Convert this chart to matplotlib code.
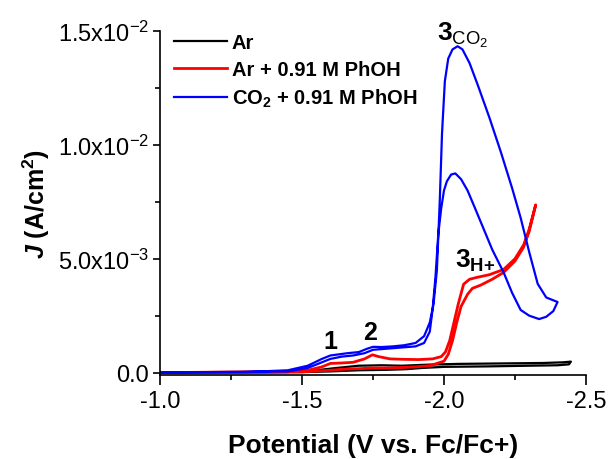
import matplotlib
matplotlib.use('Agg')
import matplotlib.pyplot as plt
from matplotlib.ticker import MultipleLocator, FixedLocator

plt.rcParams['font.family'] = ['Liberation Sans', 'DejaVu Sans']
plt.rcParams['mathtext.fontset'] = 'custom'
plt.rcParams['mathtext.rm'] = 'Liberation Sans'
plt.rcParams['mathtext.bf'] = 'Liberation Sans:bold'
plt.rcParams['mathtext.it'] = 'Liberation Sans:bold:italic'
plt.rcParams['mathtext.default'] = 'regular'

# Ar (forward + return sweep)
ar_v = [-1.00, -1.45, -1.55, -1.62, -1.70, -1.78, -1.85, -1.95, -2.05, -2.20, -2.35, -2.42, -2.447,
        -2.44, -2.40, -2.30, -2.15, -2.00, -1.92, -1.87, -1.80, -1.70, -1.60, -1.50, -1.00]
ar_j = [0.0, 0.00003, 0.0001, 0.0002, 0.0003, 0.00032, 0.0003, 0.00035, 0.00038, 0.0004, 0.00042, 0.00045, 0.00048,
        0.00036, 0.00032, 0.0003, 0.00027, 0.00025, 0.0002, 0.00015, 0.00012, 0.0001, 0.00005, 0.00002, 0.0]

# Ar + 0.91 M PhOH
ph_v = [-1.00, -1.45, -1.52, -1.57, -1.60, -1.64, -1.68, -1.72, -1.748, -1.77, -1.81, -1.86, -1.91, -1.96,
        -1.99, -2.005, -2.02, -2.035, -2.05, -2.069, -2.09, -2.119, -2.16, -2.21, -2.25, -2.281, -2.30, -2.323,
        -2.30, -2.28, -2.25, -2.21, -2.17, -2.129, -2.10, -2.083, -2.06, -2.045, -2.03, -2.015, -2.00, -1.95,
        -1.90, -1.85, -1.80, -1.75, -1.70, -1.65, -1.60, -1.50, -1.00]
ph_j = [0.0, 0.00003, 0.0001, 0.00025, 0.0004, 0.00042, 0.00045, 0.0006, 0.00078, 0.0007, 0.0006, 0.00058, 0.00057, 0.0006,
        0.0007, 0.0009, 0.0014, 0.0022, 0.0030, 0.00388, 0.0041, 0.00419, 0.0043, 0.00453, 0.0050, 0.00562, 0.0063, 0.00737,
        0.0062, 0.0055, 0.0049, 0.0044, 0.0041, 0.00384, 0.0037, 0.00344, 0.0029, 0.0022, 0.0014, 0.0008, 0.0005, 0.0003,
        0.00025, 0.00022, 0.0002, 0.0002, 0.00017, 0.00015, 0.0001, 0.00003, 0.0]

# CO2 + 0.91 M PhOH
co2_v = [-1.00, -1.30, -1.45, -1.52, -1.57, -1.60, -1.63, -1.66, -1.70, -1.73, -1.75, -1.78, -1.82, -1.86, -1.90,
         -1.93, -1.95, -1.963, -1.975, -1.985, -1.993, -2.003, -2.015, -2.030, -2.048, -2.065, -2.09, -2.12, -2.16,
         -2.20, -2.24, -2.27, -2.30, -2.33, -2.36, -2.40,
         -2.385, -2.36, -2.335, -2.30, -2.27, -2.24, -2.21, -2.17, -2.14, -2.11, -2.083, -2.06, -2.04, -2.025, -2.01,
         -2.00, -1.99, -1.98, -1.97, -1.96, -1.95, -1.93, -1.90, -1.85, -1.80, -1.75, -1.72, -1.68, -1.64, -1.60,
         -1.56, -1.52, -1.45, -1.00]
co2_j = [0.0, 0.00002, 0.0001, 0.0003, 0.0006, 0.00075, 0.0008, 0.00085, 0.0009, 0.00105, 0.00113, 0.00112, 0.00115, 0.0012, 0.0013,
         0.0016, 0.0022, 0.0030, 0.0045, 0.0075, 0.0105, 0.0128, 0.0138, 0.0142, 0.01434, 0.0142, 0.0136, 0.0126, 0.0112,
         0.0097, 0.0081, 0.0068, 0.0053, 0.0039, 0.0033, 0.0031,
         0.0027, 0.00245, 0.00235, 0.0025, 0.00275, 0.0035, 0.0044, 0.0054, 0.0063, 0.0072, 0.0080, 0.0085, 0.00875, 0.0087, 0.0084,
         0.0080, 0.0072, 0.0061, 0.0042, 0.0028, 0.0018, 0.0013, 0.00115, 0.0011, 0.00105, 0.001, 0.00085, 0.00075, 0.0007, 0.0006,
         0.0004, 0.0002, 0.00005, 0.0]

y_ticks = [0.0, 0.005, 0.010, 0.015]
y_labels = ['0.0', '5.0x10$^{-3}$', '1.0x10$^{-2}$', '1.5x10$^{-2}$']
x_ticks = [-1.0, -1.5, -2.0, -2.5]

fig = plt.figure(figsize=(6.11, 4.6), dpi=100)
ax = fig.add_axes([0.262, 0.183, 0.697, 0.747])

ax.plot(ar_v, ar_j, color='black', lw=1.6, label='Ar')
ax.plot(ph_v, ph_j, color='#ff0000', lw=2.0, label='Ar + 0.91 M PhOH')
ax.plot(co2_v, co2_j, color='#0000ff', lw=1.6, label='CO$_2$ + 0.91 M PhOH')

ax.set_xlim(-1.0, -2.5)
ax.set_ylim(-0.0001, 0.015)
ax.xaxis.set_major_locator(FixedLocator(x_ticks))
ax.xaxis.set_minor_locator(MultipleLocator(0.25))
ax.set_xticklabels(['%.1f' % v for v in x_ticks])
ax.yaxis.set_major_locator(FixedLocator(y_ticks))
ax.yaxis.set_minor_locator(MultipleLocator(0.0025))
ax.set_yticklabels(y_labels)
ax.tick_params(which='major', length=5, width=1.2, labelsize=17)
ax.tick_params(axis='x', which='major', length=7, pad=4)
ax.tick_params(axis='y', which='major', pad=3)
ax.tick_params(which='minor', length=3.5, width=1.2)

for side in ['top', 'right']:
    ax.spines[side].set_visible(False)
for side in ['left', 'bottom']:
    ax.spines[side].set_linewidth(1.2)

ax.set_xlabel('Potential (V vs. Fc/Fc+)', fontsize=19, fontweight='bold', labelpad=15)
ax.set_ylabel(r'$\mathit{J}$ (A/cm$^\mathbf{2}$)', fontsize=18, fontweight='bold', labelpad=4)

ax.legend(loc='upper left', bbox_to_anchor=(0.005, 1.03), frameon=False,
          prop={'weight': 'bold', 'size': 14.5}, handlelength=2.6, handletextpad=0.25,
          labelspacing=0.4, borderaxespad=0.2)

ax.text(-1.6, 0.0014, '1', fontsize=18, fontweight='bold', ha='center', va='center')
ax.text(-1.74, 0.0018, '2', fontsize=18, fontweight='bold', ha='center', va='center')
ax.text(-2.066, 0.01487, r'$\mathbf{3}_{\mathrm{CO_2}}$', fontsize=19, ha='center', va='center', clip_on=False)
ax.text(-2.108, 0.00493, r'$\mathbf{3}_{\mathbf{H{+}}}$', fontsize=19, ha='center', va='center')

fig.savefig('out.png', dpi=100)
